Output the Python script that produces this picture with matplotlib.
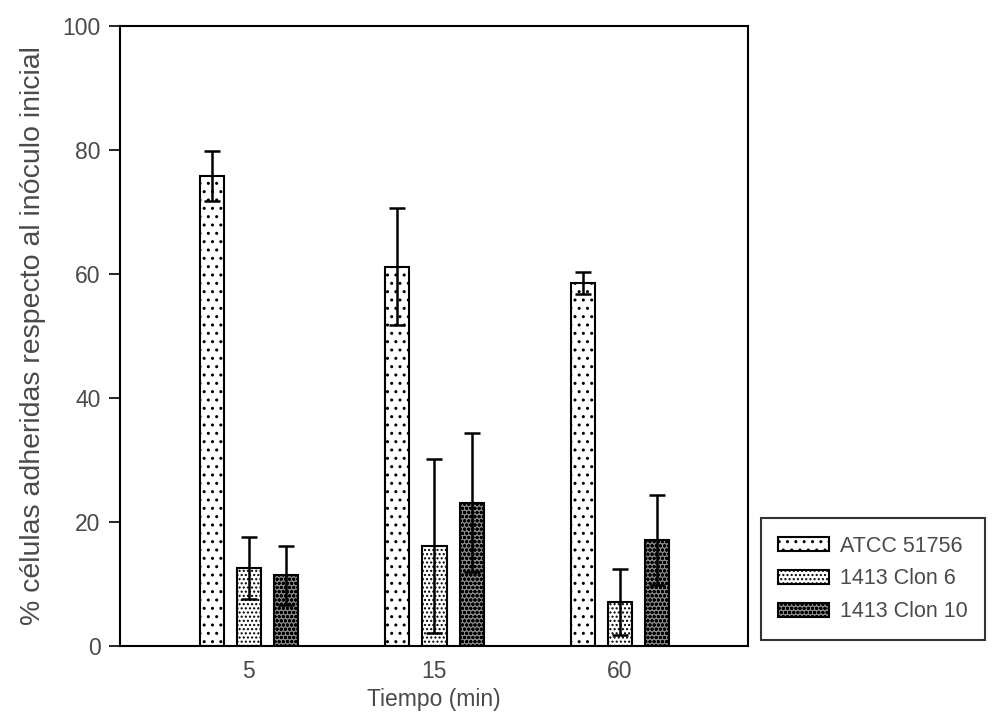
import numpy as np
import matplotlib
matplotlib.use("Agg")
from matplotlib import pyplot as plt

# data
tiempos = ["5", "15", "60"]
series = ["ATCC 51756", "1413 Clon 6", "1413 Clon 10"]
atcc = [75.8, 61.2, 58.5]
atcc_err = [4.0, 9.5, 1.8]
clon6 = [12.6, 16.1, 7.1]
clon6_err = [5.0, 14.0, 5.3]
clon10 = [11.4, 23.1, 17.1]
clon10_err = [4.8, 11.2, 7.3]

plt.rcParams['font.family'] = ['Liberation Sans', 'DejaVu Sans']
plt.rcParams['hatch.linewidth'] = 1.0
txtcol = '#4a4a4a'

fig = plt.figure(figsize=(9.93, 7.17), dpi=100)
ax = fig.add_axes([0.1208, 0.099, 0.6325, 0.8647])

x = np.arange(len(tiempos))
width = 0.13
offs = 0.2
styles = [('white', '..'), ('white', '....'), ('#8a8a8a', 'oooo')]
values = [atcc, clon6, clon10]
errors = [atcc_err, clon6_err, clon10_err]

for i, (vals, errs, name) in enumerate(zip(values, errors, series)):
    fc, hatch = styles[i]
    ax.bar(x + (i - 1) * offs, vals, width, color=fc, hatch=hatch,
           edgecolor='black', linewidth=1.5, label=name, zorder=2)
    ax.errorbar(x + (i - 1) * offs, vals, yerr=errs, fmt='none',
                ecolor='black', elinewidth=1.8, capsize=6, capthick=1.8,
                zorder=3)

ax.set_xlim(-0.695, 2.69)
ax.set_ylim(0, 100)
ax.set_yticks(range(0, 101, 20))
ax.set_xticks(x)
ax.set_xticklabels(tiempos)
ax.tick_params(axis='y', direction='out', length=8, width=1.2,
               labelsize=16.5, labelcolor=txtcol, pad=6)
ax.tick_params(axis='x', length=0, labelsize=16.5, labelcolor=txtcol, pad=10)
for s in ax.spines.values():
    s.set_linewidth(1.5)

ax.set_xlabel("Tiempo (min)", fontsize=16.5, color=txtcol, labelpad=4)
ax.set_ylabel("% células adheridas respecto al inóculo inicial",
              fontsize=20.5, color=txtcol, labelpad=12)

leg = fig.legend(loc='center', bbox_to_anchor=(0.879, 0.1925),
                 fontsize=15.5, frameon=True, fancybox=False,
                 edgecolor='black', handlelength=2.4, handleheight=0.65,
                 borderpad=0.8, labelspacing=0.55, handletextpad=0.5)
leg.get_frame().set_linewidth(1.5)
for t in leg.get_texts():
    t.set_color(txtcol)

fig.savefig("out.png", dpi=100)
